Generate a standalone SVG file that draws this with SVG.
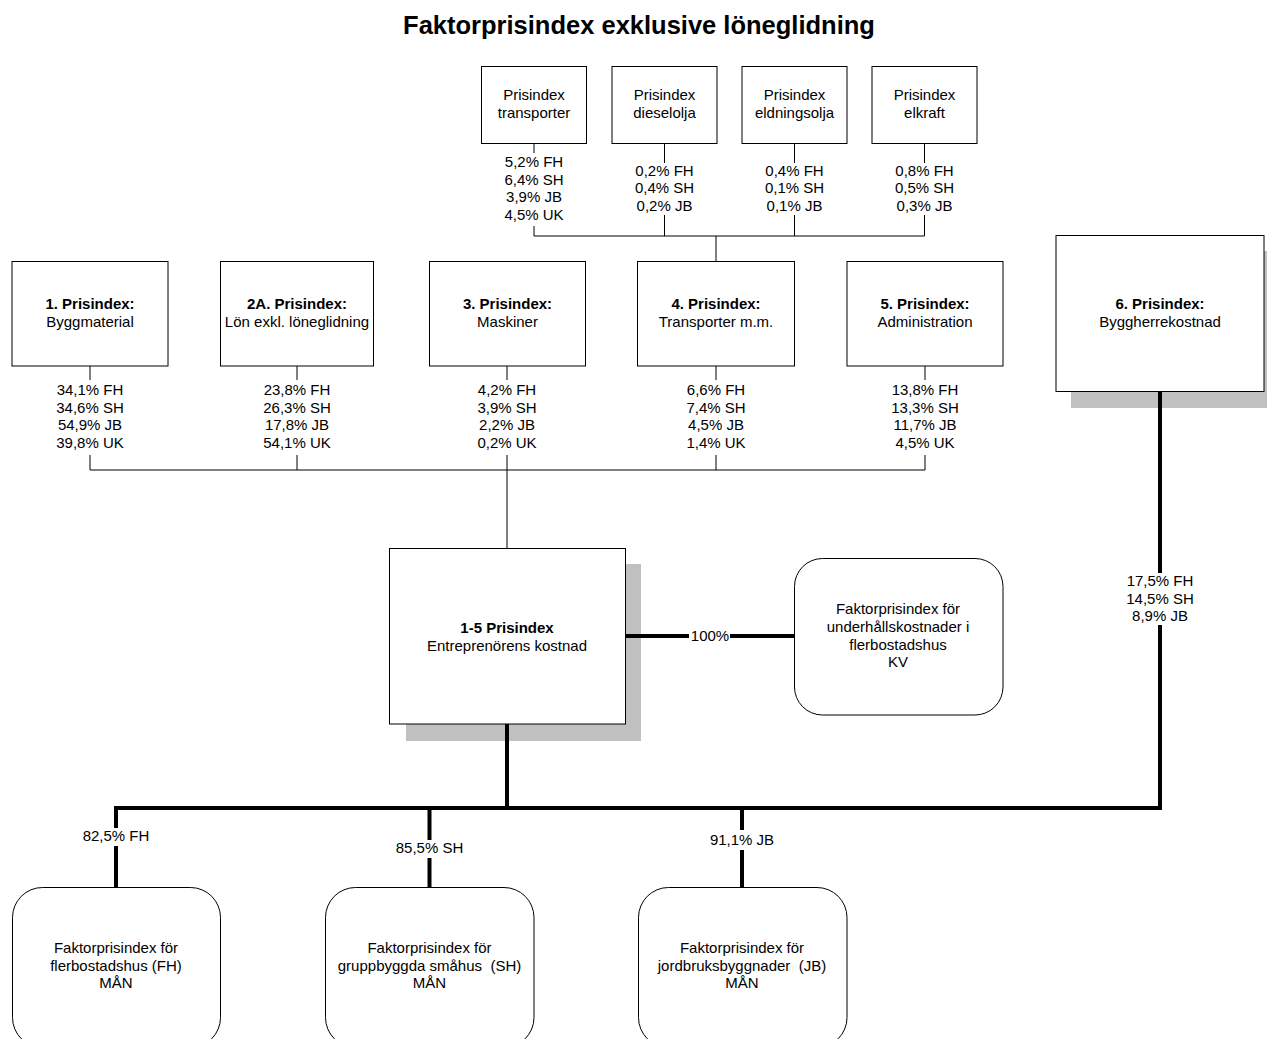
<svg xmlns="http://www.w3.org/2000/svg" width="1267" height="1039" viewBox="0 0 1267 1039">
<style>
text{font-family:"Liberation Sans",Arial,sans-serif;font-size:15px;fill:#000;text-anchor:middle}
.title{font-size:25.5px;font-weight:bold}
.b{font-weight:bold}
.box{fill:#fff;stroke:#000;stroke-width:1}
.shadow{fill:#c0c0c0}
.thin{fill:none;stroke:#000;stroke-width:1}
.thick{fill:none;stroke:#000;stroke-width:4;stroke-linejoin:miter}
</style>
<rect width="1267" height="1039" fill="#fff"/>
<text class="title" x="639" y="34">Faktorprisindex exklusive löneglidning</text>

<g id="pi-transporter"><rect class="box" x="481.5" y="66.5" width="105" height="77"/><text x="534" y="100">Prisindex</text><text x="534" y="118">transporter</text></g>
<g id="pi-dieselolja"><rect class="box" x="612" y="66.5" width="105" height="77"/><text x="664.5" y="100">Prisindex</text><text x="664.5" y="118">dieselolja</text></g>
<g id="pi-eldningsolja"><rect class="box" x="742" y="66.5" width="105" height="77"/><text x="794.5" y="100">Prisindex</text><text x="794.5" y="118">eldningsolja</text></g>
<g id="pi-elkraft"><rect class="box" x="872" y="66.5" width="105" height="77"/><text x="924.5" y="100">Prisindex</text><text x="924.5" y="118">elkraft</text></g>

<g id="pi-1"><rect class="box" x="12" y="261.5" width="156" height="104.5"/><text class="b" x="90" y="309">1. Prisindex:</text><text x="90" y="327">Byggmaterial</text></g>
<g id="pi-2a"><rect class="box" x="220.5" y="261.5" width="153" height="104.5"/><text class="b" x="297" y="309">2A. Prisindex:</text><text x="297" y="327">Lön exkl. löneglidning</text></g>
<g id="pi-3"><rect class="box" x="429.5" y="261.5" width="156" height="104.5"/><text class="b" x="507.5" y="309">3. Prisindex:</text><text x="507.5" y="327">Maskiner</text></g>
<g id="pi-4"><rect class="box" x="637.5" y="261.5" width="157" height="104.5"/><text class="b" x="716" y="309">4. Prisindex:</text><text x="716" y="327">Transporter m.m.</text></g>
<g id="pi-5"><rect class="box" x="847" y="261.5" width="156" height="104.5"/><text class="b" x="925" y="309">5. Prisindex:</text><text x="925" y="327">Administration</text></g>
<g id="pi-6"><rect class="shadow" x="1071" y="251" width="210" height="157"/><rect class="box" x="1056" y="235.5" width="208" height="156"/><text class="b" x="1160" y="309">6. Prisindex:</text><text x="1160" y="327">Byggherrekostnad</text></g>

<g id="pi-1-5"><rect class="shadow" x="406" y="564" width="235" height="177"/><rect class="box" x="389.5" y="548.5" width="236" height="175.5"/><text class="b" x="507" y="633">1-5 Prisindex</text><text x="507" y="651">Entreprenörens kostnad</text></g>

<g id="fpi-kv"><rect class="box" x="794.5" y="558.5" width="208.5" height="156.5" rx="28" ry="28"/><text x="898" y="614">Faktorprisindex för</text><text x="898" y="632">underhållskostnader i</text><text x="898" y="650">flerbostadshus</text><text x="898" y="667">KV</text></g>

<g id="fpi-fh"><rect class="box" x="12.5" y="887.5" width="208" height="160" rx="30" ry="30"/><text x="116" y="953">Faktorprisindex för</text><text x="116" y="971">flerbostadshus (FH)</text><text x="116" y="988">MÅN</text></g>
<g id="fpi-sh"><rect class="box" x="325.5" y="887.5" width="208.5" height="160" rx="30" ry="30"/><text x="429.5" y="953">Faktorprisindex för</text><text x="429.5" y="971">gruppbyggda småhus &#160;(SH)</text><text x="429.5" y="988">MÅN</text></g>
<g id="fpi-jb"><rect class="box" x="638.5" y="887.5" width="208.5" height="160" rx="30" ry="30"/><text x="742" y="953">Faktorprisindex för</text><text x="742" y="971">jordbruksbyggnader &#160;(JB)</text><text x="742" y="988">MÅN</text></g>

<g id="connectors">
  <path class="thin" d="M534 143V153M534 226V236M664.5 143V163M664.5 215V236M794.5 143V163M794.5 215V236M924.5 143V163M924.5 215V236M534 236H924.5M716 236V261"/>
  <path class="thin" d="M90 366V380M90 455V470M297 366V380M297 455V470M507 366V380M507 455V470M716 366V380M716 455V470M925 366V380M925 455V470M90 470H925M507 470V548"/>
  <path class="thick" d="M625 636H689M730 636H795"/>
  <path class="thick" d="M507 724V808M1160 391V573M1160 625V808H116V828M116 846V887M429.5 808V840M429.5 858V887M742 808V830M742 850V887"/>
</g>

<g id="labels">
  <text x="534" y="167">5,2% FH</text><text x="534" y="185">6,4% SH</text><text x="534" y="202">3,9% JB</text><text x="534" y="220">4,5% UK</text>
  <text x="664.5" y="176">0,2% FH</text><text x="664.5" y="193">0,4% SH</text><text x="664.5" y="211">0,2% JB</text>
  <text x="794.5" y="176">0,4% FH</text><text x="794.5" y="193">0,1% SH</text><text x="794.5" y="211">0,1% JB</text>
  <text x="924.5" y="176">0,8% FH</text><text x="924.5" y="193">0,5% SH</text><text x="924.5" y="211">0,3% JB</text>
  <text x="90" y="395">34,1% FH</text><text x="90" y="413">34,6% SH</text><text x="90" y="430">54,9% JB</text><text x="90" y="448">39,8% UK</text>
  <text x="297" y="395">23,8% FH</text><text x="297" y="413">26,3% SH</text><text x="297" y="430">17,8% JB</text><text x="297" y="448">54,1% UK</text>
  <text x="507" y="395">4,2% FH</text><text x="507" y="413">3,9% SH</text><text x="507" y="430">2,2% JB</text><text x="507" y="448">0,2% UK</text>
  <text x="716" y="395">6,6% FH</text><text x="716" y="413">7,4% SH</text><text x="716" y="430">4,5% JB</text><text x="716" y="448">1,4% UK</text>
  <text x="925" y="395">13,8% FH</text><text x="925" y="413">13,3% SH</text><text x="925" y="430">11,7% JB</text><text x="925" y="448">4,5% UK</text>
  <text x="710" y="641">100%</text>
  <text x="1160" y="586">17,5% FH</text><text x="1160" y="604">14,5% SH</text><text x="1160" y="621">8,9% JB</text>
  <text x="116" y="841">82,5% FH</text>
  <text x="429.5" y="853">85,5% SH</text>
  <text x="742" y="845">91,1% JB</text>
</g>
</svg>
